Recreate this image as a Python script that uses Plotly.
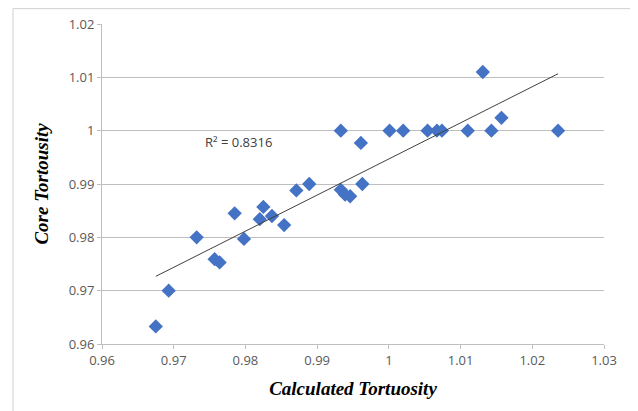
import numpy as np
import plotly.graph_objects as go

calculated_tortuosity = [
    0.9675, 0.9693, 0.9732, 0.9757, 0.9764, 0.9785, 0.9798, 0.9820, 0.9825,
    0.9837, 0.9854, 0.9871, 0.9889, 0.9933, 0.9939, 0.9946, 0.9963, 0.9933,
    0.9961, 1.0001, 1.0020, 1.0054, 1.0067, 1.0074, 1.0110, 1.0131, 1.0143,
    1.0157, 1.0236,
]
core_tortuosity = [
    0.9633, 0.9700, 0.9800, 0.9759, 0.9753, 0.9845, 0.9797, 0.9834, 0.9857,
    0.9840, 0.9823, 0.9888, 0.9900, 0.9889, 0.9880, 0.9877, 0.9900, 1.0000,
    0.9977, 1.0000, 1.0000, 1.0000, 1.0000, 1.0000, 1.0000, 1.0110, 1.0000,
    1.0024, 1.0000,
]
x_ticks = [0.96, 0.97, 0.98, 0.99, 1.00, 1.01, 1.02, 1.03]
x_tick_labels = ["0.96", "0.97", "0.98", "0.99", "1", "1.01", "1.02", "1.03"]
y_ticks = [0.96, 0.97, 0.98, 0.99, 1.00, 1.01, 1.02]
y_tick_labels = ["0.96", "0.97", "0.98", "0.99", "1", "1.01", "1.02"]
r2_label = "R² = 0.8316"

# linear trendline fitted to the data
xa = np.array(calculated_tortuosity)
ya = np.array(core_tortuosity)
slope, intercept = np.polyfit(xa, ya, 1)
trend_x = [xa.min(), xa.max()]
trend_y = [slope * v + intercept for v in trend_x]

fig = go.Figure()
fig.add_trace(go.Scatter(
    x=calculated_tortuosity, y=core_tortuosity, mode="markers",
    marker=dict(symbol="diamond", size=11, color="#4472C4"),
    showlegend=False, cliponaxis=False,
))
fig.add_trace(go.Scatter(
    x=trend_x, y=trend_y, mode="lines",
    line=dict(color="#404040", width=1),
    showlegend=False,
))

axis_font = dict(family="Open Sans, Lato, sans-serif", size=13, color="#595959")
title_font = dict(family="Liberation Serif, Times New Roman, serif", size=19, color="#000000")

fig.update_xaxes(
    range=[0.96, 1.03], tickvals=x_ticks, ticktext=x_tick_labels,
    showgrid=False, zeroline=False, automargin=False,
    showline=True, linecolor="#bfbfbf", linewidth=1,
    ticks="outside", ticklen=4, tickcolor="#bfbfbf",
    tickfont=axis_font,
    title=dict(text="<b><i>Calculated Tortuosity</i></b>", font=title_font, standoff=14),
)
fig.update_yaxes(
    range=[0.96, 1.02], tickvals=y_ticks, ticktext=y_tick_labels,
    showgrid=True, gridcolor="#bfbfbf", gridwidth=1, zeroline=False, automargin=False,
    showline=True, linecolor="#bfbfbf", linewidth=1,
    ticks="outside", ticklen=4, tickcolor="#bfbfbf",
    tickfont=axis_font,
    title=dict(text="<b><i>Core Tortousity</i></b>", font=title_font, standoff=15),
)

fig.add_annotation(
    x=0.9790, y=0.9979, xref="x", yref="y", text=r2_label, showarrow=False,
    font=dict(family="Open Sans, Lato, sans-serif", size=13, color="#404040"),
)

fig.add_shape(
    type="rect", xref="paper", yref="paper",
    x0=-0.1773, x1=1.0637, y0=-0.25, y1=1.048,
    line=dict(color="#d0d0d0", width=1), layer="below",
)

fig.update_layout(
    width=630, height=403,
    margin=dict(l=94, r=34, t=16, b=67),
    paper_bgcolor="white", plot_bgcolor="white",
)

fig.write_html("out.html")
